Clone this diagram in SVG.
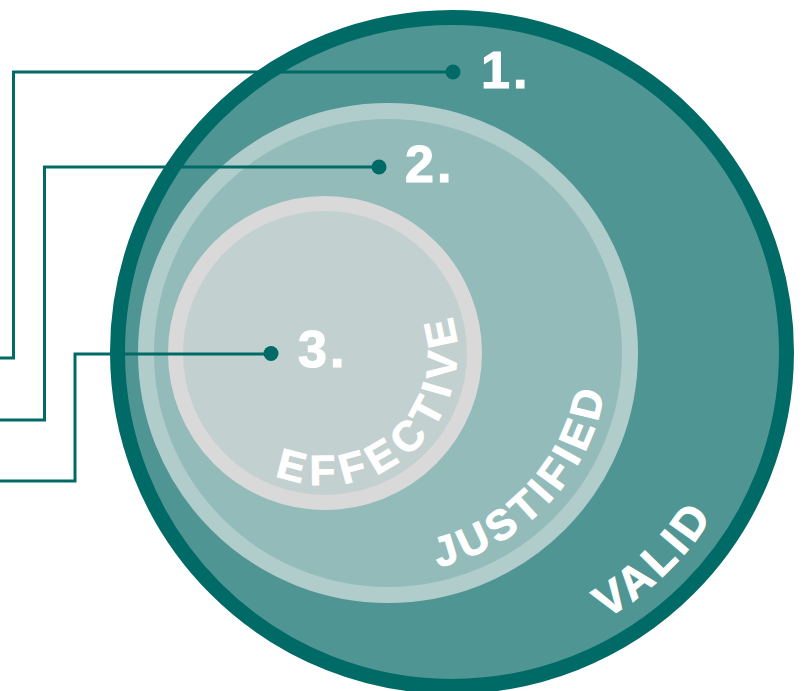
<svg xmlns="http://www.w3.org/2000/svg" xmlns:xlink="http://www.w3.org/1999/xlink" width="806" height="691" viewBox="0 0 806 691">
  <style>
    .num { font-family: "Liberation Sans", Arial, sans-serif; font-weight: 700; font-size: 52px; fill: #ffffff; stroke: #ffffff; stroke-width: 1.2; letter-spacing: 3px; }
    .arc { font-family: "Liberation Sans", Arial, sans-serif; font-weight: 700; fill: #ffffff; stroke: #ffffff; stroke-width: 1; }
    .conn { fill: none; stroke: #006a66; stroke-width: 3; }
    .dot { fill: #006a66; }
  </style>
  <defs>
    <path id="pEffective" d="M274.9,475.1 A132,132 0 0 0 391,238.7"/>
    <path id="pJustified" d="M438.2,567.2 A220,220 0 0 0 578.5,243"/>
    <path id="pValid" d="M606,618.7 A308,308 0 0 0 760,352"/>
  </defs>
  <rect width="806" height="691" fill="#ffffff"/>

  <g id="valid">
    <circle cx="452" cy="352" r="334.5" fill="#4f9593" stroke="#006a66" stroke-width="15"/>
    <text class="arc" font-size="45" letter-spacing="4"><textPath xlink:href="#pValid" href="#pValid">VALID</textPath></text>
  </g>
  <g id="justified">
    <circle cx="388" cy="353" r="242" fill="#93bbba" stroke="#b0cdcc" stroke-width="16"/>
    <text class="arc" font-size="42" letter-spacing="5"><textPath xlink:href="#pJustified" href="#pJustified">JUSTIFIED</textPath></text>
  </g>
  <g id="effective">
    <circle cx="325" cy="353" r="149.5" fill="#c3d0d0" stroke="#d9d9d9" stroke-width="15"/>
    <text class="arc" font-size="42" letter-spacing="8"><textPath xlink:href="#pEffective" href="#pEffective">EFFECTIVE</textPath></text>
  </g>

  <g id="connectors">
    <path class="conn" d="M0,358 H13.5 V72 H453"/>
    <path class="conn" d="M0,420 H44.5 V167 H379"/>
    <path class="conn" d="M0,481 H75 V354 H271"/>
    <circle class="dot" cx="453" cy="72" r="7.5"/>
    <circle class="dot" cx="379" cy="167" r="7.5"/>
    <circle class="dot" cx="271" cy="353.5" r="7.5"/>
  </g>

  <g id="label1"><text class="num" x="481" y="88">1.</text></g>
  <g id="label2"><text class="num" x="405" y="182">2.</text></g>
  <g id="label3"><text class="num" x="298" y="367">3.</text></g>
</svg>
